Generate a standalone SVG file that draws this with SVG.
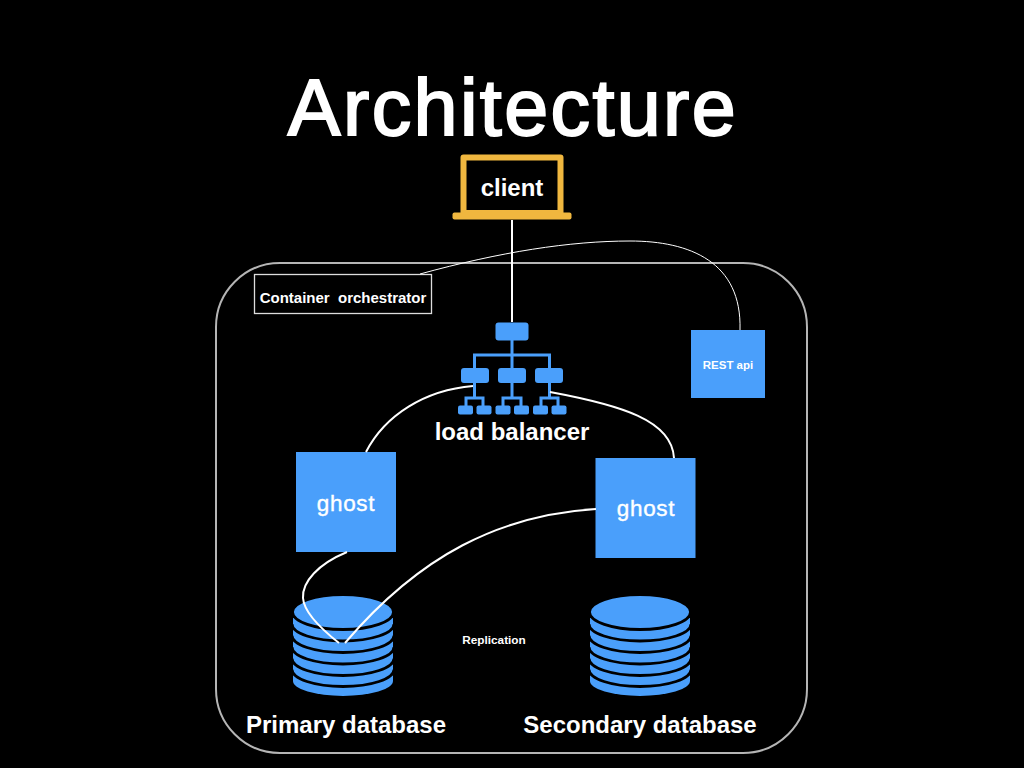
<svg xmlns="http://www.w3.org/2000/svg" width="1024" height="768" viewBox="0 0 1024 768">
<style>
text{font-family:"Liberation Sans",Arial,sans-serif;fill:#fff;text-anchor:middle;font-weight:bold}
.m{font-size:24px}
.g{font-size:22.500px;font-weight:normal;stroke:#fff;stroke-width:.4px;letter-spacing:.7px}
.w{fill:none;stroke:#fff;stroke-width:2}
.b{fill:#4a9ffb}
.t{fill:none;stroke:#4a9ffb;stroke-width:3}
.a{fill:none;stroke:#000;stroke-width:2.800}
</style>
<defs>
<g id="stack">
<path class="b" d="M-50 6V69A50 15 0 0 0 50 69V6Z"/>
<path class="a" d="M-51 12A51 17 0 0 0 51 12"/>
<path class="a" d="M-51 23.500A51 17 0 0 0 51 23.500"/>
<path class="a" d="M-51 35A51 17 0 0 0 51 35"/>
<path class="a" d="M-51 46.500A51 17 0 0 0 51 46.500"/>
<path class="a" d="M-51 57.500A51 17 0 0 0 51 57.500"/>
<ellipse cx="0" cy="0" rx="50.500" ry="17.500" fill="#4a9ffb" stroke="#000" stroke-width="2.800"/>
</g>
</defs>
<rect width="1024" height="768" fill="#000"/>
<text x="513" y="135" font-size="79" letter-spacing="2.400" style="font-weight:normal;stroke:#fff;stroke-width:2">Architecture</text>
<g id="container"><rect x="216" y="263" width="591" height="490" rx="64" fill="none" stroke="#b5b5b5" stroke-width="2"/></g>
<g id="client">
<path d="M463.500 157.500H560.500V213H463.500Z" fill="none" stroke="#f0b73f" stroke-width="6" stroke-linejoin="round"/>
<rect x="452.500" y="212.500" width="119" height="7" rx="2" fill="#f0b73f"/>
<text x="512" y="196" class="m">client</text>
</g>
<g id="orchestrator">
<rect x="254.500" y="274.500" width="177" height="39" fill="#000" stroke="#ddd" stroke-width="1.300"/>
<text x="343" y="303" font-size="15" xml:space="preserve">Container  orchestrator</text>
</g>
<g id="load-balancer">
<path class="t" d="M512 340V376M474.500 376V355H549.500V376M474.500 376V398M512 376V398M549.500 376V398M466 406V398H483V406M503 406V398H521V406M541 406V398H558V406"/>
<rect class="b" x="495.500" y="322.500" width="33" height="18" rx="3"/>
<rect class="b" x="461" y="368" width="28" height="15" rx="3"/>
<rect class="b" x="498" y="368" width="28" height="15" rx="3"/>
<rect class="b" x="535" y="368" width="28" height="15" rx="3"/>
<rect class="b" x="458" y="405.500" width="15" height="9" rx="2"/>
<rect class="b" x="476.500" y="405.500" width="15" height="9" rx="2"/>
<rect class="b" x="495.500" y="405.500" width="15" height="9" rx="2"/>
<rect class="b" x="514" y="405.500" width="15" height="9" rx="2"/>
<rect class="b" x="533" y="405.500" width="15" height="9" rx="2"/>
<rect class="b" x="551.500" y="405.500" width="15" height="9" rx="2"/>
<text x="512" y="440" class="m">load balancer</text>
</g>
<g id="rest-api"><rect class="b" x="691" y="330" width="74" height="68"/><text x="728" y="369" font-size="11.500">REST api</text></g>
<g id="ghost-1"><rect class="b" x="296" y="452" width="100" height="100"/><text x="346" y="511" class="g">ghost</text></g>
<g id="ghost-2"><rect class="b" x="595.500" y="458" width="100" height="100"/><text x="646" y="516" class="g">ghost</text></g>
<g id="primary"><use href="#stack" x="343" y="612"/><text x="346" y="733" class="m">Primary database</text></g>
<g id="secondary"><use href="#stack" x="640" y="612"/><text x="640" y="733" class="m">Secondary database</text></g>
<text id="replication" x="494" y="644" font-size="11.800">Replication</text>
<g id="connectors">
<path class="w" d="M512 220V322"/>
<path class="w" style="stroke-width:1" d="M420 274C500 252 570 241 630 241C690 241 742 262 740 330"/>
<path class="w" d="M366 452C385 415 425 390 473 386"/>
<path class="w" d="M550 392C620 405 672 420 674 458"/>
<path class="w" d="M347 552C318 564 302 582 303 598C304 614 325 632 339 643"/>
<path class="w" d="M596 509C500 515 420 555 345 643"/>
</g>
</svg>
